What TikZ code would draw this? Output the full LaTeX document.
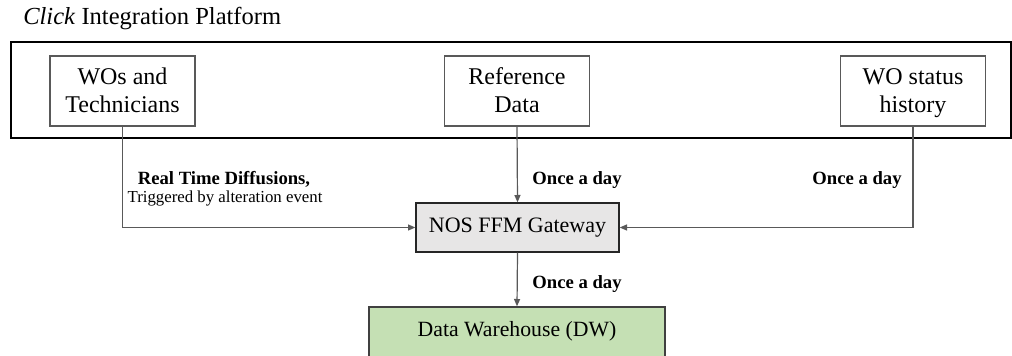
\documentclass[tikz,border=0pt]{standalone}
\usepackage{fontspec}
\setmainfont{Liberation Serif}
\usetikzlibrary{arrows.meta}
\definecolor{linegray}{HTML}{595959}
\definecolor{gwfill}{HTML}{E7E6E6}
\definecolor{dwfill}{HTML}{C5E0B4}
\newcommand{\topstr}{\rule{0pt}{16pt}}
\newcommand{\botstr}{\rule[-4pt]{0pt}{4pt}}
\tikzset{
  srcbox/.style={draw=linegray, line width=0.8pt, fill=white, minimum width=145*0.75pt, minimum height=70*0.75pt, inner sep=0pt, align=center, font=\fontsize{18}{21}\selectfont},
  gwbox/.style={draw=black!85, line width=1pt, fill=gwfill, minimum width=203*0.75pt, minimum height=49*0.75pt, inner sep=0pt, font=\fontsize{16.5}{19}\selectfont},
  dwbox/.style={draw=black!75, line width=1pt, fill=dwfill, minimum width=296*0.75pt, minimum height=70*0.75pt, inner sep=0pt},
  conn/.style={draw=linegray, line width=0.9pt, -{Triangle[length=5.5pt,width=4.5pt]}},
  lbl/.style={inner sep=0pt, font=\bfseries\fontsize{14}{16}\selectfont},
}
\begin{document}
\begin{tikzpicture}[x=0.75pt,y=-0.75pt]
\clip (0,0) rectangle (1012,356);
\useasboundingbox (0,0) rectangle (1012,356);
\fill[white] (0,0) rectangle (1012,356);
% title
\node[anchor=west, inner sep=0pt, font=\fontsize{18.4}{21}\selectfont] (title) at (23,19) {\textit{Click} Integration Platform};
% platform frame
\draw[line width=1.5pt, black] (11,42) rectangle (1010.5,138);
% source boxes
\node[srcbox] (wos) at (122.5,91) {\topstr WOs and\\Technicians\botstr};
\node[srcbox] (ref) at (517,91) {\topstr Reference\\Data\botstr};
\node[srcbox] (hist) at (913,91) {\topstr WO status\\history\botstr};
% gateway and warehouse
\node[gwbox] (nos) at (517.5,227.5) {NOS FFM Gateway};
\node[dwbox] (dw) at (517,342) {};
\node[inner sep=0pt, font=\fontsize{16.3}{19}\selectfont] (dwtext) at (517,331) {Data Warehouse (DW)};
% connectors
\draw[conn] (wos.south) |- (nos.west);
\draw[conn] (ref.south) -- (nos.north);
\draw[conn] (hist.south) |- (nos.east);
\draw[conn] (nos.south) -- (dw.north);
% labels
\node[lbl, align=center] (rt) at (224,179) {Real Time Diffusions,};
\node[inner sep=0pt, font=\fontsize{12.6}{15}\selectfont] (trig) at (225,198) {Triggered by alteration event};
\node[lbl] (once1) at (577,180) {Once a day};
\node[lbl] (once2) at (857,180) {Once a day};
\node[lbl] (once3) at (577,284) {Once a day};
\end{tikzpicture}
\end{document}
